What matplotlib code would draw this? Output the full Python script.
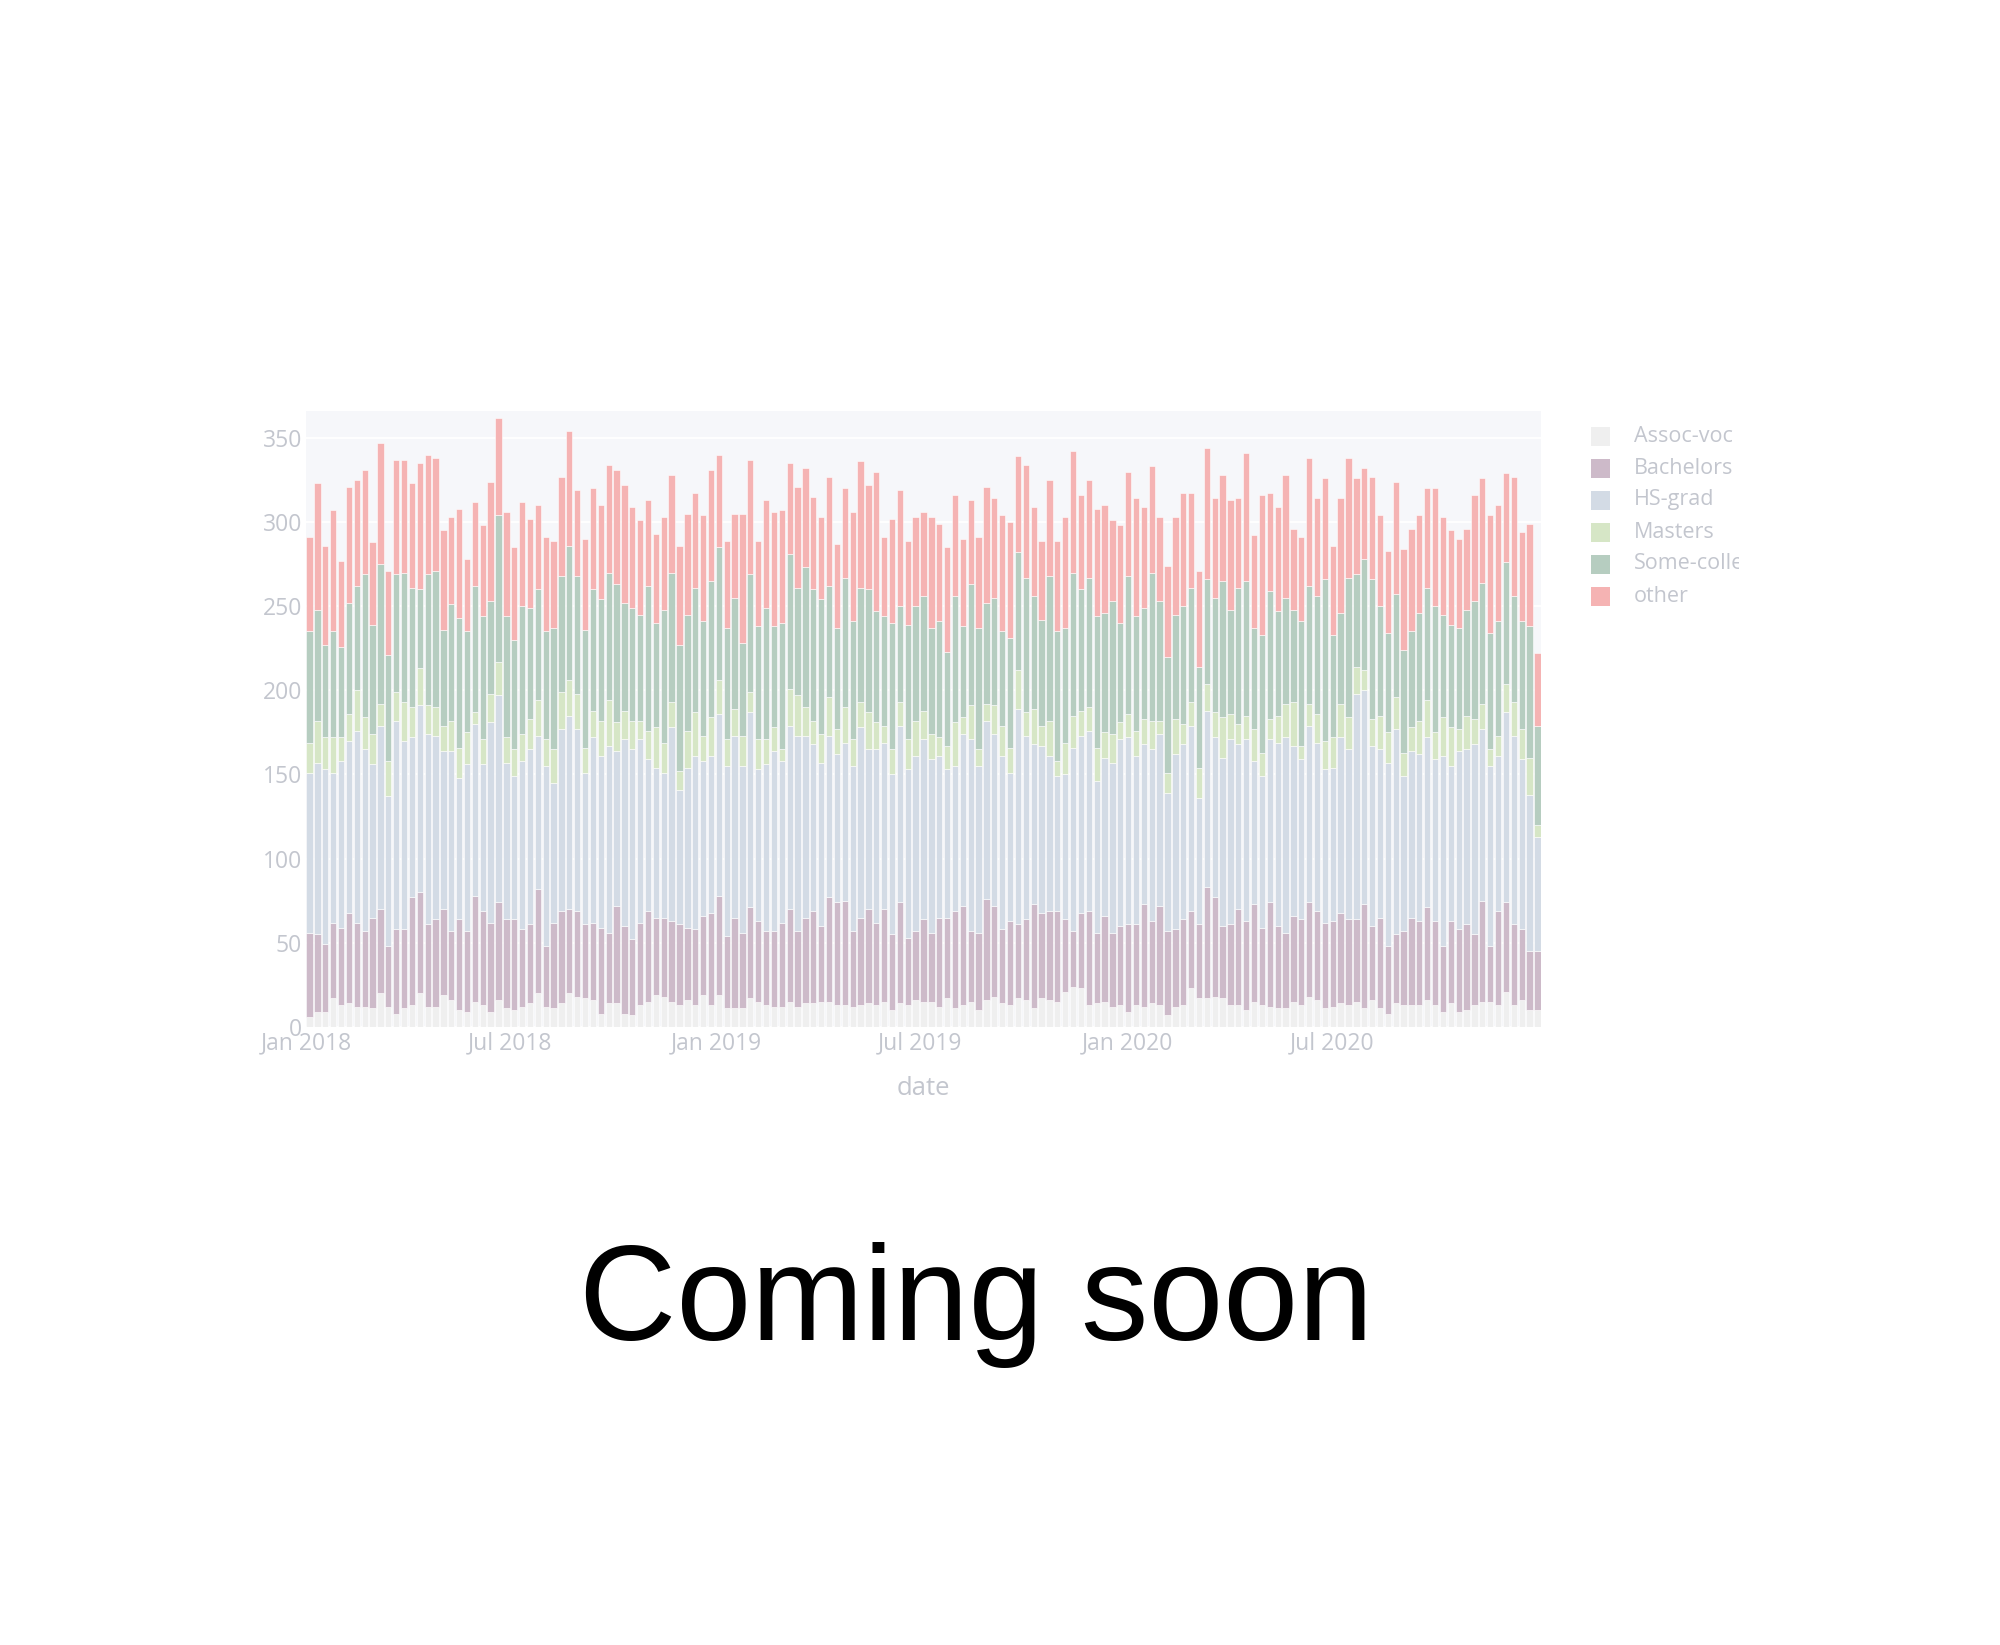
import matplotlib
matplotlib.use("Agg")
import matplotlib.pyplot as plt
import matplotlib.dates as mdates
from matplotlib.patches import Rectangle
from matplotlib.transforms import Bbox, TransformedBbox
import numpy as np
import pandas as pd

# weekly counts per education level
dates = pd.date_range("2018-01-04", periods=157, freq="7D")

assoc_voc = [6, 9, 9, 17, 13, 14, 12, 12, 11, 20,
             12, 8, 11, 13, 20, 12, 12, 19, 16, 10,
             9, 15, 13, 9, 16, 11, 10, 12, 14, 20,
             12, 11, 14, 20, 18, 17, 16, 8, 14, 14,
             8, 7, 13, 15, 19, 18, 15, 13, 16, 13,
             19, 13, 19, 11, 11, 11, 17, 15, 13, 12,
             12, 15, 12, 14, 14, 15, 15, 13, 13, 12,
             13, 14, 13, 15, 10, 14, 13, 16, 15, 15,
             12, 17, 11, 13, 15, 10, 16, 18, 14, 13,
             17, 16, 11, 17, 16, 15, 21, 24, 23, 13,
             14, 15, 12, 13, 9, 13, 12, 14, 13, 7,
             12, 13, 23, 17, 17, 18, 17, 13, 13, 10,
             15, 13, 12, 11, 11, 15, 13, 18, 16, 11,
             12, 14, 13, 15, 11, 16, 11, 8, 14, 13,
             13, 13, 16, 13, 9, 14, 9, 10, 13, 15,
             15, 13, 21, 13, 16, 10, 10]

bachelors = [50, 46, 40, 45, 46, 54, 50, 45, 54, 50,
             36, 50, 47, 64, 60, 49, 52, 51, 41, 54,
             48, 63, 56, 53, 58, 53, 54, 46, 47, 62,
             36, 51, 55, 50, 51, 44, 46, 51, 42, 58,
             52, 45, 49, 54, 46, 47, 48, 48, 43, 45,
             47, 55, 59, 43, 54, 45, 54, 48, 44, 45,
             50, 55, 45, 51, 55, 45, 62, 61, 62, 45,
             52, 56, 49, 55, 45, 60, 40, 41, 49, 41,
             53, 48, 58, 59, 42, 46, 60, 54, 44, 50,
             44, 48, 62, 51, 53, 54, 43, 33, 45, 56,
             42, 51, 44, 47, 52, 48, 61, 49, 59, 50,
             46, 51, 46, 44, 66, 59, 43, 48, 57, 53,
             58, 46, 62, 49, 45, 51, 51, 56, 53, 51,
             51, 54, 51, 49, 62, 44, 54, 40, 41, 44,
             52, 50, 55, 50, 39, 49, 49, 51, 42, 60,
             33, 56, 53, 48, 42, 35, 35]

hs_grad = [95, 102, 104, 89, 99, 102, 114, 108, 91, 109,
           89, 124, 112, 95, 111, 113, 109, 94, 107, 84,
           99, 102, 87, 119, 123, 93, 85, 100, 104, 91,
           107, 83, 108, 115, 108, 90, 110, 102, 111, 92,
           111, 113, 109, 90, 89, 86, 115, 80, 95, 103,
           92, 93, 108, 101, 108, 99, 116, 90, 99, 107,
           96, 109, 116, 108, 99, 97, 96, 88, 94, 98,
           113, 95, 103, 99, 95, 105, 100, 104, 107, 103,
           96, 88, 86, 102, 114, 99, 106, 102, 103, 88,
           128, 109, 95, 99, 92, 80, 86, 109, 105, 107,
           90, 94, 101, 111, 111, 100, 95, 102, 102, 82,
           104, 104, 110, 75, 105, 95, 100, 110, 98, 108,
           85, 90, 97, 109, 116, 101, 95, 105, 100, 91,
           91, 104, 101, 134, 127, 107, 100, 109, 122, 92,
           99, 99, 101, 96, 113, 92, 106, 104, 113, 102,
           107, 92, 113, 112, 101, 93, 68]

masters = [18, 25, 19, 21, 14, 16, 24, 19, 18, 13,
           21, 17, 23, 18, 22, 17, 17, 15, 18, 18,
           19, 7, 15, 17, 20, 15, 16, 16, 18, 21,
           16, 20, 22, 21, 21, 15, 16, 21, 27, 17,
           17, 17, 11, 17, 24, 18, 15, 11, 22, 26,
           15, 23, 20, 16, 16, 18, 12, 18, 15, 14,
           7, 22, 24, 17, 14, 17, 23, 15, 21, 16,
           15, 22, 16, 10, 15, 14, 18, 21, 17, 15,
           11, 14, 26, 10, 20, 10, 10, 17, 18, 15,
           23, 14, 21, 12, 21, 9, 19, 19, 15, 14,
           20, 15, 17, 10, 14, 15, 15, 17, 8, 12,
           21, 12, 14, 18, 16, 15, 24, 15, 12, 14,
           19, 14, 12, 16, 20, 26, 8, 13, 17, 17,
           18, 20, 19, 16, 12, 16, 20, 18, 19, 14,
           14, 20, 22, 16, 23, 23, 13, 20, 15, 15,
           10, 12, 17, 20, 18, 22, 7]

some_college = [66, 66, 55, 63, 54, 66, 62, 85, 65, 83,
                63, 70, 77, 71, 47, 78, 81, 57, 69, 77,
                60, 75, 73, 55, 87, 72, 65, 76, 66, 66,
                64, 72, 69, 80, 70, 70, 72, 72, 76, 82,
                64, 67, 63, 86, 62, 79, 77, 75, 69, 74,
                68, 81, 79, 66, 66, 55, 70, 67, 78, 60,
                75, 80, 64, 83, 78, 80, 66, 60, 77, 70,
                68, 73, 66, 65, 75, 57, 68, 68, 68, 63,
                69, 56, 75, 54, 72, 72, 60, 64, 56, 65,
                70, 80, 67, 63, 86, 77, 68, 85, 72, 77,
                78, 71, 79, 59, 82, 68, 66, 88, 71, 69,
                62, 70, 68, 60, 62, 68, 81, 62, 81, 80,
                60, 70, 76, 62, 63, 55, 74, 70, 70, 96,
                61, 54, 83, 55, 66, 83, 65, 59, 61, 61,
                57, 64, 67, 75, 61, 61, 60, 63, 70, 72,
                69, 68, 72, 63, 64, 78, 59]

other = [56, 75, 59, 72, 51, 69, 63, 62, 49, 72,
         50, 68, 67, 62, 75, 71, 67, 59, 52, 65,
         43, 50, 54, 71, 58, 62, 55, 62, 53, 50,
         56, 52, 59, 68, 51, 54, 60, 56, 64, 68,
         70, 60, 56, 51, 53, 55, 58, 59, 60, 56,
         63, 66, 55, 52, 50, 77, 68, 51, 64, 68,
         67, 54, 60, 59, 55, 49, 65, 50, 53, 65,
         75, 62, 83, 47, 62, 69, 50, 53, 50, 66,
         58, 62, 60, 52, 50, 54, 69, 59, 69, 69,
         57, 67, 53, 47, 57, 54, 66, 72, 56, 58,
         64, 64, 48, 58, 62, 70, 60, 63, 50, 54,
         58, 67, 56, 57, 78, 59, 63, 65, 53, 76,
         55, 83, 58, 62, 73, 48, 50, 76, 58, 60,
         53, 68, 71, 57, 54, 61, 54, 49, 67, 60,
         61, 58, 59, 70, 58, 56, 53, 48, 63, 62,
         70, 69, 53, 71, 53, 61, 43]

labels = ["Assoc-voc", "Bachelors", "HS-grad", "Masters", "Some-college", "other"]
series = [assoc_voc, bachelors, hs_grad, masters, some_college, other]
colors = ["#efefef", "#cdbac9", "#d3dbe5", "#d6e6c6", "#b6cdc0", "#f5b3b3"]

txt_color = "#c3c6ce"
plt.rcParams["font.family"] = ["Open Sans", "DejaVu Sans"]

fig = plt.figure(figsize=(20, 16.45), dpi=100)
fig.patch.set_facecolor("white")

# plot area
ax = fig.add_axes([0.153, 0.3757, 0.6175, 0.3745])
ax.set_facecolor("#f6f7fa")
for s in ax.spines.values():
    s.set_visible(False)

x = mdates.date2num(dates)
bottom = np.zeros(len(x))
for vals, lab, col in zip(series, labels, colors):
    vals = np.array(vals, dtype=float)
    ax.bar(x, vals, width=5.6, bottom=bottom, color=col, edgecolor="white",
           linewidth=0.4, label=lab, zorder=2)
    bottom += vals

ax.set_xlim(x[0] - 3.2, x[-1] + 3.2)
ax.set_ylim(0, 366)
ax.set_yticks(np.arange(0, 351, 50))
ax.yaxis.grid(True, color="white", linewidth=1.3, zorder=1)
ax.set_axisbelow(True)

xt = pd.to_datetime(["2018-01-01", "2018-07-01", "2019-01-01", "2019-07-01",
                     "2020-01-01", "2020-07-01"])
ax.set_xticks(mdates.date2num(xt))
ax.xaxis.set_major_formatter(mdates.DateFormatter("%b %Y"))
ax.tick_params(axis="both", length=0, labelsize=16.5, colors=txt_color)
ax.tick_params(axis="x", pad=3)
ax.tick_params(axis="y", pad=3)
ax.set_xlabel("date", fontsize=18.5, color=txt_color, labelpad=15)

# legend drawn by hand so the long label can be clipped like the original
W, H = 2000, 1645
leg_y = [436, 468, 500, 532, 564, 596]
clip = TransformedBbox(Bbox.from_extents(1580 / W, 0, 1739 / W, 1), fig.transFigure)
for lab, col, yy in zip(labels, colors, leg_y):
    fig.patches.append(Rectangle((1591 / W, (H - yy - 9.5) / H), 19 / W, 19 / H,
                                 transform=fig.transFigure, facecolor=col,
                                 edgecolor="none"))
    t = fig.text(1634 / W, (H - yy) / H, lab, fontsize=15.5, color=txt_color,
                 va="center", ha="left")
    t.set_clip_box(clip)
    t.set_clip_on(True)

fig.text(0.488, (H - 1340) / H, "Coming soon", fontsize=97, color="black",
         ha="center", va="baseline", family=["Liberation Sans", "DejaVu Sans"])

fig.savefig("out.png", dpi=100, facecolor="white")
